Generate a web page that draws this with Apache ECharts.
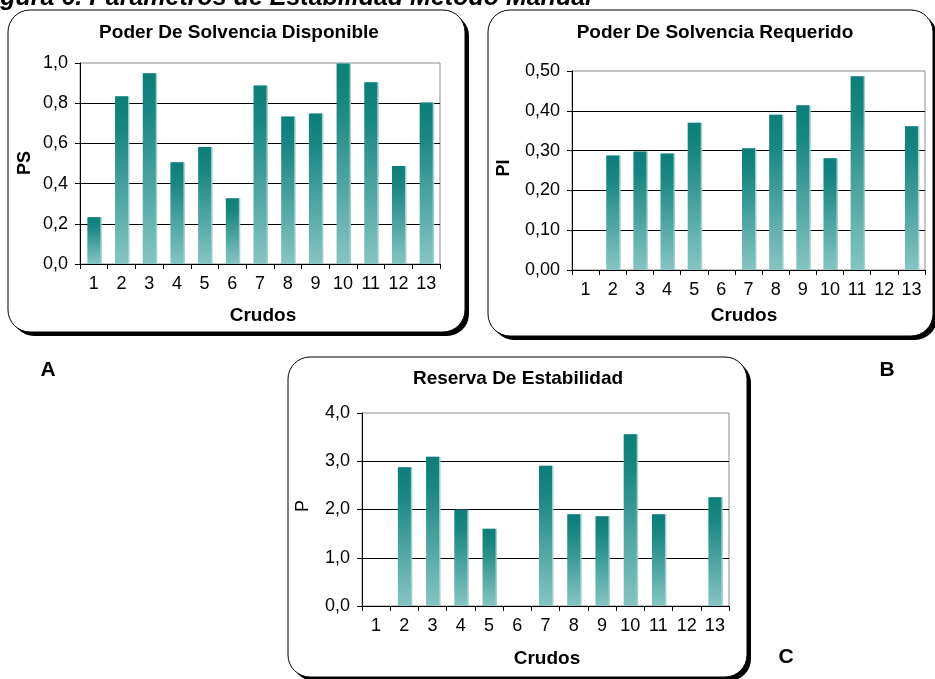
<!DOCTYPE html>
<html>
<head>
<meta charset="utf-8">
<script src="https://cdn.jsdelivr.net/npm/echarts@6/dist/echarts.min.js"></script>
<style>
  html, body { margin: 0; padding: 0; background: #fff; }
  #chart { width: 935px; height: 679px; }
</style>
</head>
<body>
<div id="chart"></div>
<script>
// Crude samples on the x axis
const crudos = ['1', '2', '3', '4', '5', '6', '7', '8', '9', '10', '11', '12', '13'];

// A: available solvency power (PS)
const poderDisponible = [0.233, 0.835, 0.949, 0.506, 0.582, 0.327, 0.888, 0.734, 0.749, 0.998, 0.904, 0.488, 0.803];
// B: required solvency power (PI)
const poderRequerido = [null, 0.288, 0.298, 0.293, 0.370, null, 0.306, 0.390, 0.414, 0.281, 0.487, null, 0.361];
// C: stability reserve (P)
const reservaEstabilidad = [null, 2.874, 3.095, 1.997, 1.603, null, 2.908, 1.900, 1.858, 3.558, 1.900, null, 2.252];

const FONT = "'Liberation Sans', Arial, sans-serif";

function comma(decimals) {
  return v => v.toFixed(decimals).replace('.', ',');
}

const barFill = new echarts.graphic.LinearGradient(0, 0, 0, 1, [
  { offset: 0, color: '#0d7e79' },
  { offset: 0.2, color: '#198681' },
  { offset: 1, color: '#86c5c1' }
]);

function barSeries(idx, data) {
  return {
    type: 'bar',
    xAxisIndex: idx,
    yAxisIndex: idx,
    data: data,
    barWidth: 13,
    itemStyle: {
      color: barFill,
      shadowColor: 'rgba(150,205,200,0.9)',
      shadowOffsetX: 1.5,
      shadowOffsetY: 0,
      shadowBlur: 0
    }
  };
}

function xAxis(idx) {
  return {
    type: 'category',
    gridIndex: idx,
    data: crudos,
    boundaryGap: true,
    axisLine: { lineStyle: { color: '#000', width: 1 } },
    axisTick: { show: true, inside: false, length: 5, lineStyle: { color: '#000' } },
    axisLabel: { color: '#000', fontSize: 18, fontFamily: FONT, margin: 11, interval: 0 },
    splitLine: { show: false }
  };
}

function yAxis(idx, max, interval, decimals) {
  return {
    type: 'value',
    gridIndex: idx,
    min: 0,
    max: max,
    interval: interval,
    axisLine: { show: true, lineStyle: { color: '#000', width: 1 } },
    axisTick: { show: true, length: 5, lineStyle: { color: '#000' } },
    axisLabel: { color: '#000', fontSize: 18, fontFamily: FONT, margin: 12, formatter: comma(decimals) },
    splitLine: { show: true, showMinLine: false, showMaxLine: false, lineStyle: { color: '#000', width: 1 } }
  };
}

// Rounded panel with a heavy drop shadow on the right and bottom
function panel(x, y, w, h) {
  return [
    { type: 'rect', z: -10, shape: { x: x + 4, y: y + 4, width: w, height: h, r: 22 }, style: { fill: '#000' } },
    { type: 'rect', z: -9, shape: { x: x, y: y, width: w, height: h, r: 22 }, style: { fill: '#fff', stroke: '#000', lineWidth: 1 } }
  ];
}

function label(text, x, y, size) {
  return {
    type: 'text', z: 5, x: x, y: y,
    style: {
      text: text, fill: '#000', font: 'bold ' + (size || 19) + 'px ' + FONT,
      textAlign: 'center', textVerticalAlign: 'middle'
    }
  };
}

function vlabel(text, x, y, weight) {
  return {
    type: 'text', z: 5, x: x, y: y, rotation: Math.PI / 2,
    style: {
      text: text, fill: '#000', font: weight + ' 18px ' + FONT,
      textAlign: 'center', textVerticalAlign: 'middle'
    }
  };
}

const chart = echarts.init(document.getElementById('chart'), null, { renderer: 'canvas' });

chart.setOption({
  animation: false,
  backgroundColor: '#fff',
  grid: [
    { left: 80, top: 63, width: 360, height: 201, show: true, borderColor: '#8c8c8c', borderWidth: 1, backgroundColor: 'transparent' },
    { left: 572, top: 71, width: 353, height: 199, show: true, borderColor: '#8c8c8c', borderWidth: 1, backgroundColor: 'transparent' },
    { left: 362, top: 413, width: 367, height: 193, show: true, borderColor: '#8c8c8c', borderWidth: 1, backgroundColor: 'transparent' }
  ],
  xAxis: [xAxis(0), xAxis(1), xAxis(2)],
  yAxis: [
    yAxis(0, 1.0, 0.2, 1),
    yAxis(1, 0.5, 0.1, 2),
    yAxis(2, 4.0, 1.0, 1)
  ],
  series: [
    barSeries(0, poderDisponible),
    barSeries(1, poderRequerido),
    barSeries(2, reservaEstabilidad)
  ],
  graphic: [
    ...panel(8, 10, 457, 322),
    ...panel(488, 10, 445, 326),
    ...panel(288, 357, 459, 320),
    {
      type: 'text', z: 5, x: -22, y: -2,
      style: {
        text: 'Figura 6. Parámetros de Estabilidad Método Manual',
        fill: '#000', font: 'italic bold 25px ' + FONT,
        textAlign: 'left', textVerticalAlign: 'middle'
      }
    },
    label('Poder De Solvencia Disponible', 239, 33),
    label('Poder De Solvencia Requerido', 715, 33),
    label('Reserva De Estabilidad', 518, 379),
    label('Crudos', 263, 316),
    label('Crudos', 744, 316),
    label('Crudos', 547, 659),
    vlabel('PS', 25, 163, 'bold'),
    vlabel('PI', 504, 168, 'bold'),
    vlabel('P', 303, 506, 'normal'),
    label('A', 48, 370, 21),
    label('B', 887, 370, 21),
    label('C', 786, 657, 21)
  ]
});
</script>
</body>
</html>
